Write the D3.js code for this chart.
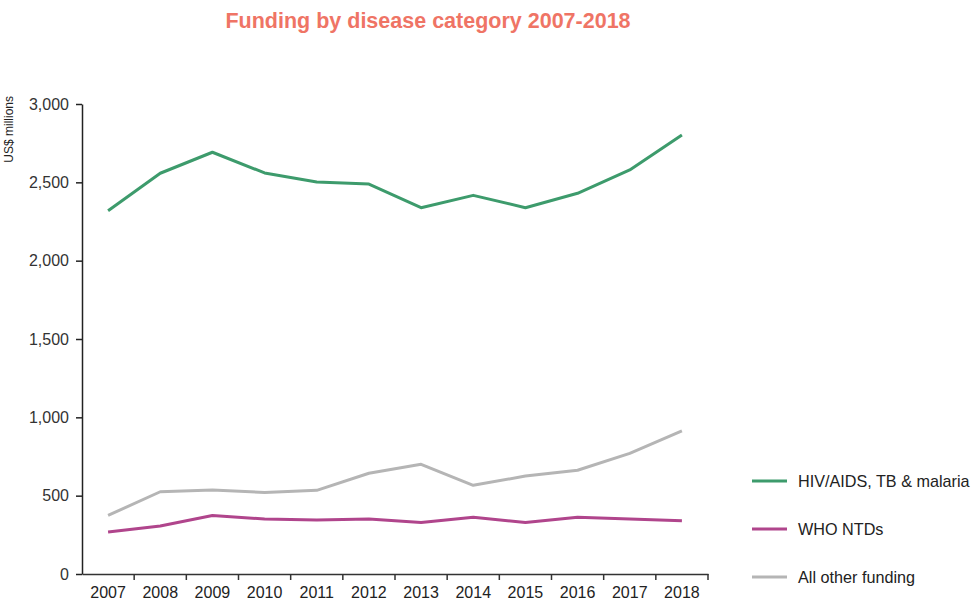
<!DOCTYPE html>
<html>
<head>
<meta charset="utf-8">
<script src="https://cdn.jsdelivr.net/npm/d3@7/dist/d3.min.js"></script>
<style>
  html, body { margin: 0; padding: 0; background: #fff; }
  svg { display: block; }
</style>
</head>
<body>
<svg id="chart" width="973" height="606"></svg>
<script>
const years = ["2007","2008","2009","2010","2011","2012","2013","2014","2015","2016","2017","2018"];
const hivTbMalaria = [2319, 2558, 2692, 2560, 2502, 2489, 2338, 2417, 2338, 2430, 2579, 2802];
const whoNTDs      = [268, 306, 374, 351, 345, 351, 328, 362, 328, 362, 351, 340];
const allOther     = [374, 525, 536, 521, 534, 643, 700, 566, 625, 662, 770, 913];
const yTicks = [0, 500, 1000, 1500, 2000, 2500, 3000];
const seriesNames = ["HIV/AIDS, TB & malaria", "WHO NTDs", "All other funding"];
const seriesColors = ["#3d9b6c", "#b0458c", "#b5b5b5"];
const titleText = "Funding by disease category 2007-2018";
const yLabel = "US$ millions";

const series = [
  { name: seriesNames[0], values: hivTbMalaria, color: seriesColors[0] },
  { name: seriesNames[1], values: whoNTDs, color: seriesColors[1] },
  { name: seriesNames[2], values: allOther, color: seriesColors[2] }
];

const svg = d3.select("#chart");
const font = "'Liberation Sans', Arial, Helvetica, sans-serif";

const x = d3.scaleBand().domain(years).range([82, 708]).paddingInner(0).paddingOuter(0);
const y = d3.scaleLinear().domain([0, 3000]).range([574, 104]);

// Title
svg.append("text")
  .attr("x", 428).attr("y", 28)
  .attr("text-anchor", "middle")
  .attr("font-family", font)
  .attr("font-size", 21.5)
  .attr("font-weight", "bold")
  .attr("fill", "#ef7465")
  .text(titleText);

// Y axis label
svg.append("text")
  .attr("transform", "translate(13,96) rotate(-90)")
  .attr("text-anchor", "end")
  .attr("font-family", font)
  .attr("font-size", 12)
  .attr("fill", "#222")
  .text(yLabel);

// Y axis
const yAxis = svg.append("g")
  .attr("transform", "translate(82,0)")
  .call(d3.axisLeft(y).tickValues(yTicks).tickSize(6).tickSizeOuter(0).tickPadding(7).tickFormat(d3.format(",")));
yAxis.select(".domain").attr("stroke", "#222").attr("stroke-width", 1.5);
yAxis.selectAll(".tick line").attr("stroke", "#222").attr("stroke-width", 1.5);
yAxis.selectAll(".tick text")
  .attr("font-family", font).attr("font-size", 16).attr("fill", "#333");

// X axis
const xAxis = svg.append("g")
  .attr("transform", "translate(0,574)")
  .call(d3.axisBottom(x).tickSize(0).tickSizeOuter(0).tickPadding(13));
xAxis.select(".domain").attr("stroke", "#333").attr("stroke-width", 1.5);
xAxis.selectAll(".tick text")
  .attr("font-family", font).attr("font-size", 16).attr("fill", "#222");
// tick marks at category boundaries
const boundaries = years.map(d => x(d)).concat([x(years[years.length - 1]) + x.bandwidth()]).slice(1);
xAxis.selectAll(".bnd").data(boundaries).enter().append("line")
  .attr("class", "bnd")
  .attr("x1", d => d).attr("x2", d => d)
  .attr("y1", 0).attr("y2", 6)
  .attr("stroke", "#333").attr("stroke-width", 1.5);

// Lines
const line = d3.line()
  .x((d, i) => x(years[i]) + x.bandwidth() / 2)
  .y(d => y(d));

svg.append("g").selectAll("path").data(series.slice().reverse()).enter().append("path")
  .attr("d", d => line(d.values))
  .attr("fill", "none")
  .attr("stroke", d => d.color)
  .attr("stroke-width", 3)
  .attr("stroke-linejoin", "round");

// Legend
const legend = svg.append("g");
series.forEach((s, i) => {
  const ly = 481 + i * 48;
  legend.append("line")
    .attr("x1", 752).attr("x2", 787)
    .attr("y1", ly).attr("y2", ly)
    .attr("stroke", s.color).attr("stroke-width", 3);
  legend.append("text")
    .attr("x", 798).attr("y", ly + 6)
    .attr("font-family", font).attr("font-size", 16.2)
    .attr("fill", "#222")
    .text(s.name);
});
</script>
</body>
</html>
